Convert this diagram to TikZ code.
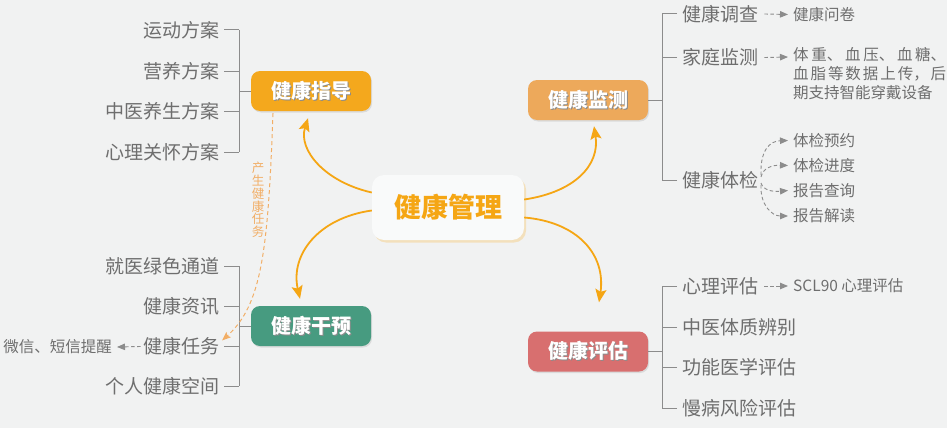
\documentclass[tikz,border=0pt]{standalone}
\usepackage{fontspec}
\setmainfont{Noto Sans CJK SC}
\usetikzlibrary{arrows.meta,shadows,calc}
\definecolor{bg}{HTML}{F1F2F2}
\definecolor{txt}{HTML}{6E6E6E}
\definecolor{ln}{HTML}{8C8C8C}
\definecolor{cOr}{HTML}{F4A81D}
\definecolor{cGr}{HTML}{479B80}
\definecolor{cLo}{HTML}{EDA95B}
\definecolor{cRd}{HTML}{D86F6F}
\definecolor{cMain}{HTML}{F5A614}
\definecolor{cDash}{HTML}{F2AE66}
\newcommand\hubtxt[1]{\makebox[0pt][l]{\raisebox{-1.2pt}{\hspace{1.2pt}\color{black!45}#1}}#1}
\tikzset{
  hub/.style={rounded corners=9pt, minimum width=120pt, minimum height=40pt, inner sep=0pt,
    text=white, font=\fontsize{20}{24}\selectfont\bfseries,
    drop shadow={shadow xshift=1pt, shadow yshift=-1.5pt, opacity=0.2}},
  mainbox/.style={rounded corners=12pt, fill=white!60!bg, minimum width=152pt, minimum height=65pt,
    inner sep=0pt, text=cMain, font=\fontsize{27}{30}\selectfont\bfseries,
    drop shadow={color=cMain!70, shadow xshift=2pt, shadow yshift=-2.5pt, opacity=0.35}},
  itemL/.style={text=txt, font=\fontsize{19}{22}\selectfont, inner sep=0pt, anchor=east},
  itemR/.style={text=txt, font=\fontsize{19}{22}\selectfont, inner sep=0pt, anchor=west},
  small/.style={text=txt, font=\fontsize{15.5}{20}\selectfont, inner sep=0pt, anchor=west},
  brk/.style={draw=ln, line width=1pt},
  garrow/.style={draw=ln, line width=0.9pt, dash pattern=on 3.5pt off 2.5pt, -{Triangle[length=8pt,width=6.5pt]}},
  bigarrow/.style={draw=cMain, line width=1.8pt, -{Stealth[length=13pt,width=11pt,inset=2.5pt]}},
}
\begin{document}
\begin{tikzpicture}[x=1pt,y=-1pt]
\fill[bg] (0,0) rectangle (947,428);
\useasboundingbox (0,0) rectangle (947,428);

% central
\node[mainbox] (main) at (448,207.5) {健康管理};

% hubs
\node[hub, fill=cOr] (zd) at (311,91) {\hubtxt{健康指导}};
\node[hub, fill=cGr] (gy) at (311,326) {\hubtxt{健康干预}};
\node[hub, fill=cLo] (jc) at (588,100) {\hubtxt{健康监测}};
\node[hub, fill=cRd] (pg) at (588,351.5) {\hubtxt{健康评估}};

% main arrows
\draw[bigarrow] ($(main.west)+(0,-15)$) .. controls (325,182) and (298,150) .. ($(zd.south)+(-3,7)$);
\draw[bigarrow] ($(main.west)+(0,3)$) .. controls (318,218) and (290,255) .. ($(gy.north)+(-11,-7)$);
\draw[bigarrow] ($(main.east)+(0,-8)$) .. controls (575,192) and (600,165) .. ($(jc.south)+(6,6)$);
\draw[bigarrow] ($(main.east)+(0,10)$) .. controls (578,222) and (606,255) .. ($(pg.north)+(11,-29)$);

% left: 健康指导 items
\node[itemL] (a1) at (220,30) {运动方案};
\node[itemL] (a2) at (220,71) {营养方案};
\node[itemL] (a3) at (220,111) {中医养生方案};
\node[itemL] (a4) at (220,152) {心理关怀方案};
\coordinate (ab1) at (239,30);
\coordinate (ab4) at (239,152);
\draw[brk] (ab1) -- (ab4);
\foreach \n in {a1,a2,a3,a4}{\draw[brk] ([xshift=4pt]\n.east) -- (\n.east -| ab1);}
\draw[brk] (zd.west) -- (zd.west -| ab1);

% left: 健康干预 items
\node[itemL] (b1) at (220,266) {就医绿色通道};
\node[itemL] (b2) at (220,306) {健康资讯};
\node[itemL] (b3) at (220,346.5) {健康任务};
\node[itemL] (b4) at (220,386) {个人健康空间};
\coordinate (bb1) at (239,266);
\coordinate (bb4) at (239,386);
\draw[brk] (bb1) -- (bb4);
\foreach \n in {b1,b2,b3,b4}{\draw[brk] ([xshift=4pt]\n.east) -- (\n.east -| bb1);}
\draw[brk] (gy.west) -- (gy.west -| bb1);

\node[small, anchor=east] (b3x) at (112,347) {微信、短信提醒};
\draw[garrow] ([xshift=-3pt]b3.west) -- ([xshift=5pt]b3x.east);

% orange dashed task link
\draw[draw=cDash, line width=1pt, dash pattern=on 4pt off 3pt, -{Stealth[length=9pt,width=7pt,inset=2pt]}]
  ($(zd.south)+(-38,2)$) .. controls (268,250) and (262,305) .. ($(b3.east)+(2,-6)$);
\node[text=cDash, font=\fontsize{12.5}{14}\selectfont, align=center, inner sep=0pt] (task) at (258,200)
  {产\\[-1.2pt]生\\[-1.2pt]健\\[-1.2pt]康\\[-1.2pt]任\\[-1.2pt]务};

% right: 健康监测 items
\node[itemR] (c1) at (682,14) {健康调查};
\node[itemR] (c2) at (682,57.5) {家庭监测};
\node[itemR] (c3) at (682,180.5) {健康体检};
\coordinate (cb1) at (662,14);
\coordinate (cb3) at (662,180.5);
\draw[brk] (cb1) -- (cb3);
\foreach \n in {c1,c2,c3}{\draw[brk] ([xshift=-5pt]\n.west) -- (\n.west -| cb1);}
\draw[brk] (jc.east) -- (jc.east -| cb1);

\node[small] (c1x) at (793,14.5) {健康问卷};
\draw[garrow] ([xshift=6pt]c1.east) -- ([xshift=-5pt]c1x.west);
\node[small, anchor=north west, align=left] (c2x) at (793,47.5)
  {\makebox[153pt][s]{体\hfil 重、\hfil 血\hfil 压、\hfil 血\hfil 糖、}\\[-1pt]
   \makebox[153pt][s]{血\hfil 脂\hfil 等\hfil 数\hfil 据\hfil 上\hfil 传，\hfil 后}\\[-1pt]
   期支持智能穿戴设备};
\draw[garrow] ([xshift=6pt]c2.east) -- ([xshift=-5pt,yshift=0.5pt]c2x.west |- c2.east);

\node[small] (d1) at (793,140.5) {体检预约};
\node[small] (d2) at (793,165.5) {体检进度};
\node[small] (d3) at (793,190.5) {报告查询};
\node[small] (d4) at (793,216) {报告解读};
\coordinate (cs) at (761,180);
\draw[garrow] ($(cs)+(0,-5)$) .. controls (760,150) and (770,141) .. ([xshift=-5pt]d1.west);
\draw[garrow] ($(cs)+(0,-3)$) .. controls (763,168) and (772,165) .. ([xshift=-5pt]d2.west);
\draw[garrow] ($(cs)+(0,3)$) .. controls (763,190) and (772,192) .. ([xshift=-5pt]d3.west);
\draw[garrow] ($(cs)+(0,5)$) .. controls (760,205) and (772,216) .. ([xshift=-5pt]d4.west);

% right: 健康评估 items
\node[itemR] (e1) at (682,286) {心理评估};
\node[itemR] (e2) at (682,327) {中医体质辨别};
\node[itemR] (e3) at (682,367) {功能医学评估};
\node[itemR] (e4) at (682,408) {慢病风险评估};
\coordinate (eb1) at (662,286);
\coordinate (eb4) at (662,408);
\draw[brk] (eb1) -- (eb4);
\foreach \n in {e1,e2,e3,e4}{\draw[brk] ([xshift=-5pt]\n.west) -- (\n.west -| eb1);}
\draw[brk] (pg.east) -- (pg.east -| eb1);

\node[small] (e1x) at (793,286) {SCL90 心理评估};
\draw[garrow] ([xshift=6pt]e1.east) -- ([xshift=-5pt]e1x.west);
\end{tikzpicture}
\end{document}
